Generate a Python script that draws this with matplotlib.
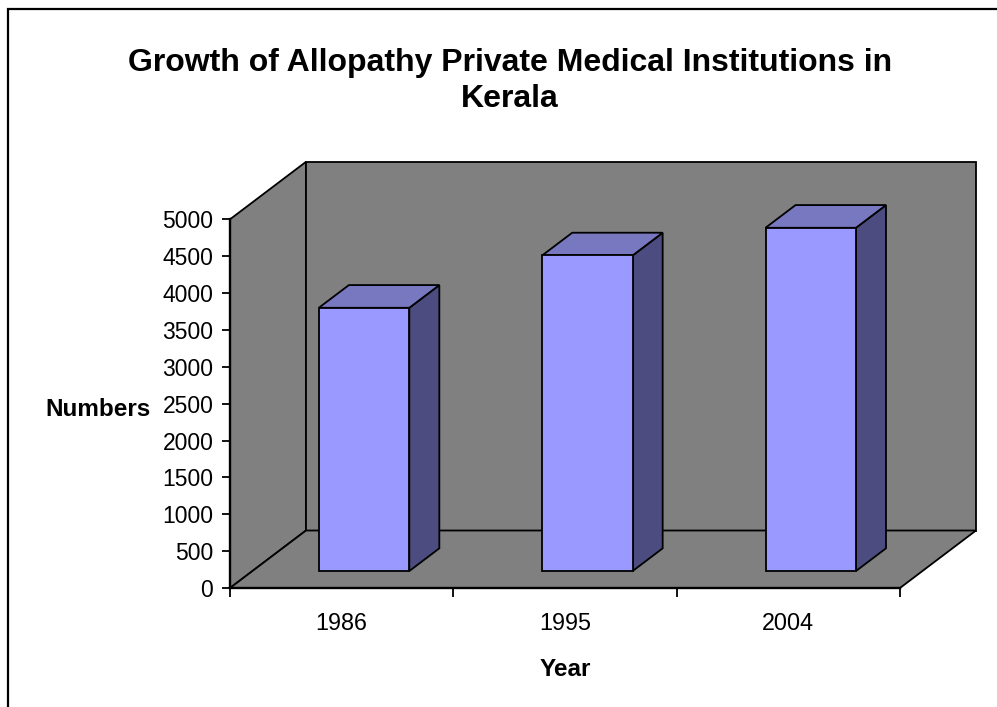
import matplotlib
matplotlib.use("Agg")
import matplotlib.pyplot as plt
from matplotlib.patches import Polygon, Rectangle

# ---- data ----
years = ["1986", "1995", "2004"]
values = [3570, 4280, 4655]
y_ticks = [0, 500, 1000, 1500, 2000, 2500, 3000, 3500, 4000, 4500, 5000]
title = "Growth of Allopathy Private Medical Institutions in\nKerala"
x_label = "Year"
y_label = "Numbers"

W, H = 997, 707
plt.rcParams['font.family'] = ['Liberation Sans', 'DejaVu Sans']
fig = plt.figure(figsize=(W / 100, H / 100), dpi=100)
fig.patch.set_facecolor("white")

# front plane of the 3D box in pixels
left_px, right_px, bottom_px, top_px = 230, 900, 588, 219.3
ax = fig.add_axes([left_px / W, 1 - bottom_px / H,
                   (right_px - left_px) / W, (bottom_px - top_px) / H])
ncat = len(years)
ymax = 5000
ax.set_xlim(0, ncat)
ax.set_ylim(0, ymax)
ax.set_facecolor("none")

# depth vector (pixels) -> data units
px_per_x = (right_px - left_px) / ncat
px_per_y = (bottom_px - top_px) / ymax
DX = 76 / px_per_x
DY = 57.5 / px_per_y

wall = "#808080"
elw = 1.3
def poly(pts, fc, z):
    p = Polygon(pts, closed=True, facecolor=fc, edgecolor="black",
                linewidth=elw, clip_on=False, zorder=z, joinstyle="miter")
    ax.add_patch(p)

# walls and floor
poly([(0, 0), (0, ymax), (DX, ymax + DY), (DX, DY)], wall, 1)
poly([(DX, DY), (ncat + DX, DY), (ncat + DX, ymax + DY), (DX, ymax + DY)], wall, 1)
poly([(0, 0), (ncat, 0), (ncat + DX, DY), (DX, DY)], wall, 1.5)

# bars
bw = 0.405
z0, z1 = 0.295, 0.69
front_c, top_c, side_c = "#9999FF", "#7878C0", "#4C4C80"
for i, v in enumerate(values):
    x0 = i + 0.5 - bw / 2
    x1 = i + 0.5 + bw / 2
    fx, fy = z0 * DX, z0 * DY
    bx, by = z1 * DX, z1 * DY
    poly([(x1 + fx, fy), (x1 + bx, by), (x1 + bx, v + by), (x1 + fx, v + fy)], side_c, 3)
    poly([(x0 + fx, v + fy), (x1 + fx, v + fy), (x1 + bx, v + by), (x0 + bx, v + by)], top_c, 3)
    poly([(x0 + fx, fy), (x1 + fx, fy), (x1 + fx, v + fy), (x0 + fx, v + fy)], front_c, 3)

# axes
for s in ["top", "right"]:
    ax.spines[s].set_visible(False)
for s in ["left", "bottom"]:
    ax.spines[s].set_linewidth(1.7)
    ax.spines[s].set_zorder(5)
ax.set_yticks(y_ticks)
ax.set_yticklabels([str(t) for t in y_ticks], fontsize=16.5)
ax.set_xticks(range(ncat + 1))
ax.set_xticklabels([""] * (ncat + 1))
ax.set_xticks([i + 0.5 for i in range(ncat)], minor=True)
ax.set_xticklabels(years, minor=True, fontsize=16.8)
ax.tick_params(axis="y", direction="out", length=6, width=1.3, pad=6)
ax.tick_params(axis="x", which="major", direction="out", length=6.5, width=1.3)
ax.tick_params(axis="x", which="minor", length=0, pad=17)

ax.set_xlabel(x_label, fontsize=17.5, fontweight="bold")
ax.xaxis.set_label_coords((565 - left_px) / (right_px - left_px),
                          (bottom_px - 670) / (bottom_px - top_px))
ax.xaxis.label.set_va("center")
ax.set_ylabel(y_label, fontsize=17.5, fontweight="bold", rotation=0,
              ha="center", va="center")
ax.yaxis.set_label_coords((98 - left_px) / (right_px - left_px),
                          (bottom_px - 410) / (bottom_px - top_px))

fig.text(510 / W, 1 - 81 / H, title, ha="center", va="center",
         fontsize=23, fontweight="bold", linespacing=1.22)

# outer chart border (extends beyond canvas on right/bottom)
fig.patches.append(Rectangle((8 / W, -0.1), 2, 1 - 9 / H + 0.1,
                             transform=fig.transFigure, fill=False,
                             edgecolor="black", linewidth=1.6))

fig.savefig("out.png", dpi=100)
